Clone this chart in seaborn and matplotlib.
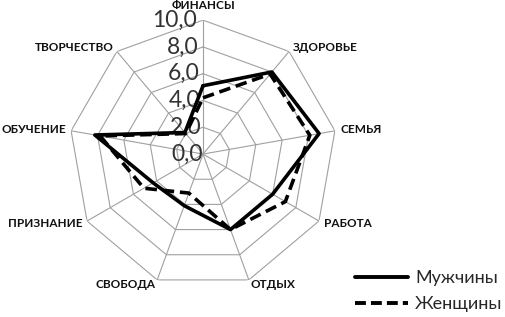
import numpy as np
import pandas as pd
import matplotlib
matplotlib.use("Agg")
import matplotlib.pyplot as plt
import seaborn as sns
from matplotlib.lines import Line2D

# Data
categories = ['ФИНАНСЫ', 'ЗДОРОВЬЕ', 'СЕМЬЯ', 'РАБОТА', 'ОТДЫХ',
              'СВОБОДА', 'ПРИЗНАНИЕ', 'ОБУЧЕНИЕ', 'ТВОРЧЕСТВО']
men = [5.1, 8.0, 8.8, 6.0, 6.0, 4.1, 4.3, 8.2, 2.1]
women = [4.2, 7.8, 8.1, 7.1, 6.0, 3.1, 5.1, 7.8, 2.0]
series_names = ['Мужчины', 'Женщины']
r_ticks = [0, 2, 4, 6, 8, 10]

sns.set_style('white')
plt.rcParams['font.family'] = ['Lato', 'DejaVu Sans']

n = len(categories)
angles = np.linspace(0, 2 * np.pi, n, endpoint=False)
closed = np.append(angles, angles[0])

# long table for seaborn
rows = []
for name, vals in zip(series_names, [men, women]):
    for i, a in enumerate(closed):
        rows.append({'angle': a, 'value': vals[i % n], 'series': name})
df = pd.DataFrame(rows)

fig = plt.figure(figsize=(5.06, 3.17), dpi=100)
ax = fig.add_axes([0.1364, 0.0915, 0.5296, 0.845], projection='polar')
ax.set_theta_zero_location('N')
ax.set_theta_direction(-1)
ax.set_ylim(0, 10)
ax.grid(False)
ax.spines['polar'].set_visible(False)
ax.set_xticks([])
ax.set_yticks([])

# polygon grid (rings + spokes)
for r in r_ticks[1:]:
    ax.plot(closed, [r] * len(closed), color='#a0a0a0', lw=0.8, zorder=1)
for a in angles:
    ax.plot([a, a], [0, r_ticks[-1]], color='#a0a0a0', lw=0.8, zorder=1)

# radial tick labels along the top spoke (under the lines)
for r in r_ticks:
    ax.text(np.deg2rad(-2.5), r, f'{r:.1f}'.replace('.', ','), ha='right', va='center',
            fontsize=16.5, color='#333333', zorder=2)

sns.lineplot(data=df, x='angle', y='value', hue='series', style='series',
             palette=['black', 'black'], dashes={'Мужчины': '', 'Женщины': (3.2, 1.6)},
             sort=False, estimator=None, units='series', lw=2.6, legend=False,
             ax=ax, zorder=3)
ax.set_xlabel('')
ax.set_ylabel('')
ax.set_ylim(0, 10)

# category labels
for a, lab in zip(angles, categories):
    s = np.sin(a)
    if abs(s) < 0.1:
        ha, rr = 'center', 11.1
    elif s > 0:
        ha, rr = 'left', 10.4
    else:
        ha, rr = 'right', 10.4
    ax.text(a, rr, lab, ha=ha, va='center', fontsize=8.5, fontweight='bold',
            color='#111111', clip_on=False)

handles = [Line2D([], [], color='black', lw=2.8),
           Line2D([], [], color='black', lw=2.8, dashes=(2.8, 1.3))]
fig.legend(handles, series_names, loc='lower right', bbox_to_anchor=(1.025, -0.035),
           frameon=False, fontsize=13, handlelength=2.9, labelspacing=0.55,
           handletextpad=0.4)

fig.savefig('out.png', dpi=100)
